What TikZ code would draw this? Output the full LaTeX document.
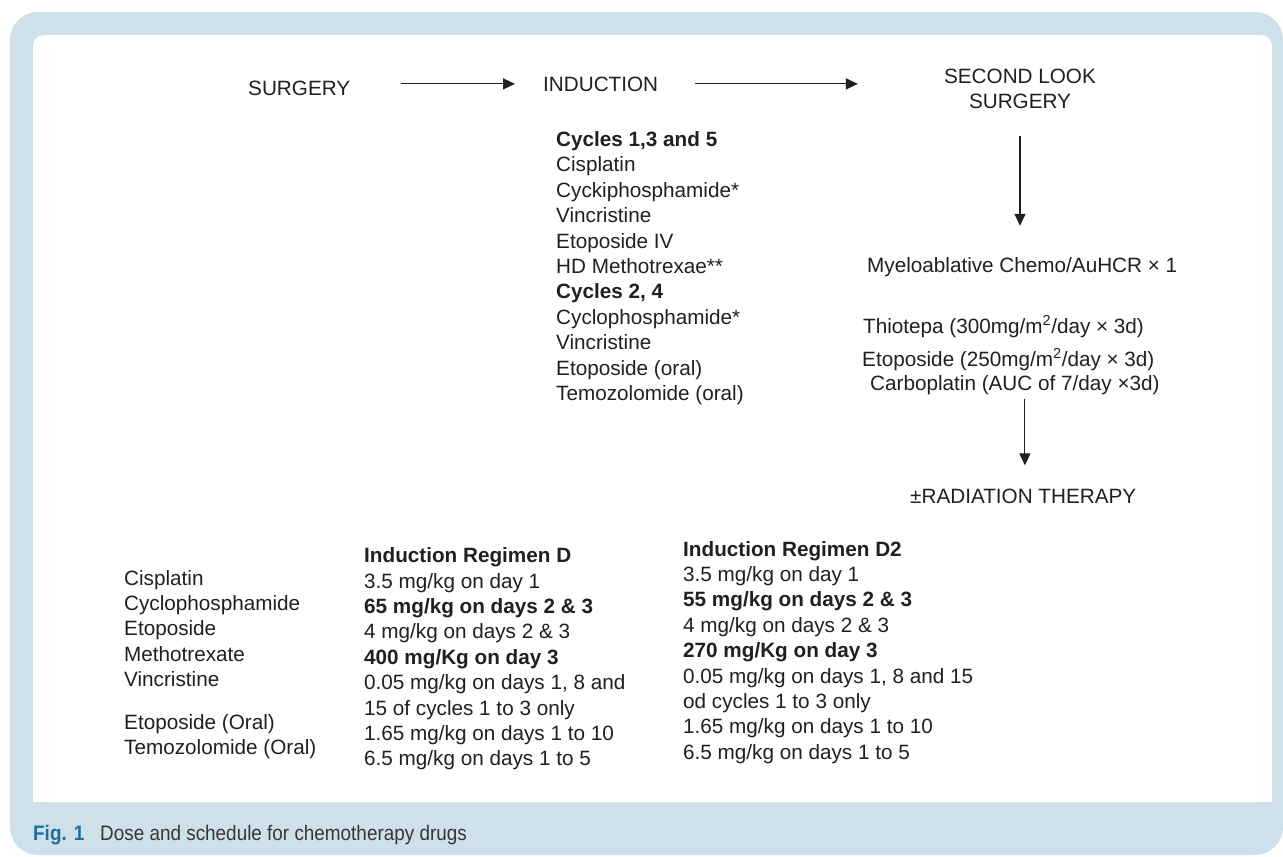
\documentclass[tikz,border=0pt]{standalone}
\usepackage{fontspec}
\setmainfont{Liberation Sans}
\newfontfamily\capfont[FakeStretch=0.9]{Liberation Sans}
\usetikzlibrary{arrows.meta}

\definecolor{ink}{HTML}{231F20}
\definecolor{framebg}{HTML}{CEE0EA}
\definecolor{figblue}{HTML}{1D6F9B}

% left / centred column of lines, baseline = first line
\newcommand{\stack}[1]{\begin{tabular}[t]{@{}l@{}}#1\end{tabular}}
\newcommand{\cstack}[1]{\begin{tabular}[t]{@{}c@{}}#1\end{tabular}}

\begin{document}
\begin{tikzpicture}[x=1pt,y=-1pt,
    lbl/.style={inner sep=0pt, anchor=base west, text=ink,
                font=\fontsize{20.7}{25.4}\selectfont},
    flow/.style={draw=ink, line width=1.2pt, -{Triangle[length=12pt,width=11pt]}},
    figcap/.style={inner sep=0pt, anchor=base west, font=\capfont\fontsize{21}{25}\selectfont}]

    % --- Frame ---
    \useasboundingbox (0,0) rectangle (1283,857);
    \fill[framebg, rounded corners=28pt] (10,12) rectangle (1283,855);
    \fill[white, rounded corners=11pt] (33,35) rectangle (1272,802);
    \fill[white] (33,780) rectangle (1272,802);

    % --- Top row ---
    \node[lbl] (surgery) at (248,95) {SURGERY};
    \node[lbl] (induction) at (543,91) {INDUCTION};
    \node[lbl, anchor=base] (second) at (1020,83.3) {\cstack{SECOND LOOK\\SURGERY}};

    % --- Induction cycles ---
    \node[lbl] (cycles) at (556,146.5) {\stack{\textbf{Cycles 1,3 and 5}\\Cisplatin\\Cyckiphosphamide*\\Vincristine\\Etoposide IV\\HD Methotrexae**\\\textbf{Cycles 2, 4}\\Cyclophosphamide*\\Vincristine\\Etoposide (oral)\\Temozolomide (oral)}};

    % --- Right branch ---
    \node[lbl] (myelo) at (867,272) {Myeloablative Chemo/AuHCR × 1};
    \node[lbl] (thiotepa) at (863,333.3) {Thiotepa (300mg/m\textsuperscript{2}/day × 3d)};
    \node[lbl] (etoposide) at (862,366) {Etoposide (250mg/m\textsuperscript{2}/day × 3d)};
    \node[lbl] (carbo) at (870,390) {Carboplatin (AUC of 7/day ×3d)};
    \node[lbl] (radiation) at (910,503) {±RADIATION THERAPY};

    % --- Dose table ---
    \node[lbl] (drugs) at (124,585) {\stack{Cisplatin\\Cyclophosphamide\\Etoposide\\Methotrexate\\Vincristine\\[17pt]Etoposide (Oral)\\Temozolomide (Oral)}};
    \node[lbl] (regD) at (364,562.7) {\stack{\textbf{Induction Regimen D}\\3.5 mg/kg on day 1\\\textbf{65 mg/kg on days 2 \& 3}\\4 mg/kg on days 2 \& 3\\\textbf{400 mg/Kg on day 3}\\0.05 mg/kg on days 1, 8 and\\15 of cycles 1 to 3 only\\1.65 mg/kg on days 1 to 10\\6.5 mg/kg on days 1 to 5}};
    \node[lbl] (regDtwo) at (683,556) {\stack{\textbf{Induction Regimen D2}\\3.5 mg/kg on day 1\\\textbf{55 mg/kg on days 2 \& 3}\\4 mg/kg on days 2 \& 3\\\textbf{270 mg/Kg on day 3}\\0.05 mg/kg on days 1, 8 and 15\\od cycles 1 to 3 only\\1.65 mg/kg on days 1 to 10\\6.5 mg/kg on days 1 to 5}};

    % --- Arrows ---
    \draw[flow, shorten <=51pt, shorten >=28pt] (surgery.east |- induction.west) -- (induction.west);
    \draw[flow, shorten <=37pt, shorten >=86pt] (induction.east) -- (induction.east -| second.west);
    \draw[flow, shorten <=19.7pt, shorten >=31pt] (second.south) -- (second.south |- myelo.north);
    \draw[flow, shorten <=4.6pt, shorten >=23pt] ([xshift=10pt]carbo.south) -- ([xshift=10pt]carbo.south |- radiation.north);

    % --- Caption ---
    \node[figcap, text=figblue] (fig) at (33,840) {\bfseries Fig. 1};
    \node[figcap, text=ink!90] (caption) at (100,840) {Dose and schedule for chemotherapy drugs};

\end{tikzpicture}
\end{document}
